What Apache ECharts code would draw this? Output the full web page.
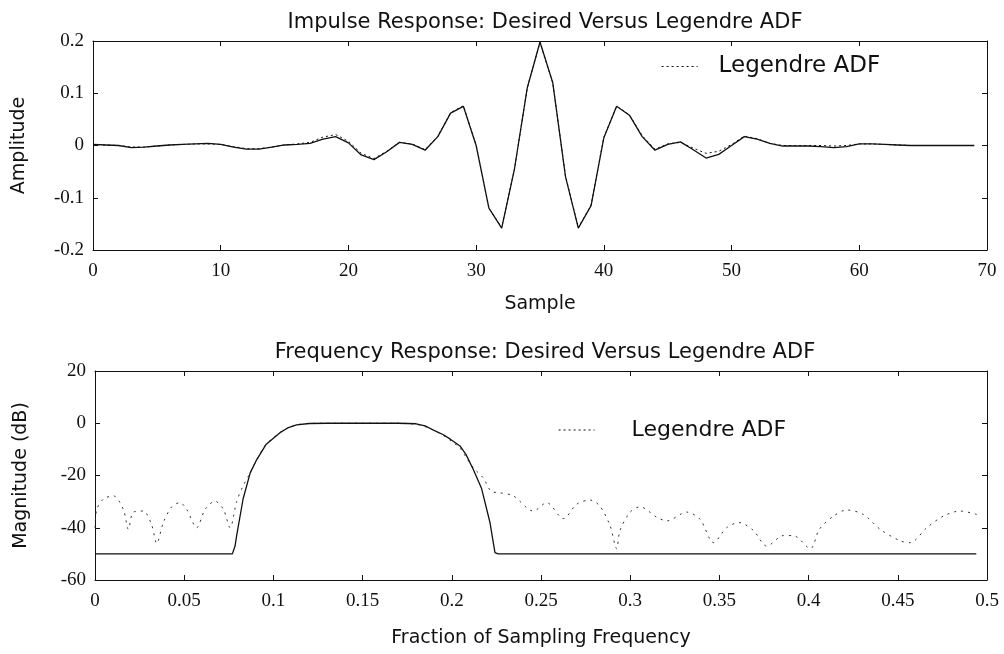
<!DOCTYPE html>
<html>
<head>
<meta charset="utf-8">
<script src="https://cdn.jsdelivr.net/npm/echarts@6/dist/echarts.min.js"></script>
<style>
html,body{margin:0;padding:0;background:#fff;}
#c{width:1004px;height:654px;}
</style>
</head>
<body>
<div id="c"></div>
<script>
// Impulse response, samples 0..69
const desiredImpulse = [0.002,0.001,0,-0.004,-0.003,-0.001,0.001,0.002,0.003,0.004,
  0.002,-0.003,-0.007,-0.007,-0.003,0.001,0.002,0.004,0.012,0.017,
  0.005,-0.018,-0.027,-0.012,0.006,0.002,-0.009,0.017,0.062,0.075,
  0.0,-0.12,-0.158,-0.045,0.11,0.198,0.12,-0.06,-0.158,-0.115,
  0.015,0.075,0.058,0.017,-0.009,0.002,0.007,-0.008,-0.024,-0.017,
  0.0,0.017,0.012,0.004,-0.001,-0.001,-0.001,-0.002,-0.004,-0.002,
  0.003,0.003,0.002,0.001,0,0,0,0,0,0];
const adfImpulse = [0.002,0.001,0,-0.003,-0.003,-0.001,0.001,0.002,0.003,0.003,
  0.002,-0.002,-0.006,-0.006,-0.003,0.001,0.003,0.006,0.016,0.021,
  0.008,-0.015,-0.025,-0.011,0.006,0.003,-0.008,0.018,0.063,0.076,
  0.001,-0.12,-0.157,-0.045,0.11,0.197,0.12,-0.059,-0.157,-0.114,
  0.016,0.075,0.059,0.019,-0.007,0.003,0.006,-0.005,-0.015,-0.011,
  0.002,0.018,0.013,0.004,0,0,0,0,-0.001,0,
  0.003,0.003,0.002,0.001,0,0,0,0,0,0];

// Frequency response
const desiredFreq = [0,0.077,0.0785,0.0794,0.083,0.087,0.0906,0.096,0.1037,0.108,0.113,0.12,0.13,0.17,0.18,0.185,0.1897,0.195,0.199,0.2046,0.208,0.212,0.2167,0.2214,0.2242,0.226,0.494];
const desiredDb   = [-50,-50,-47,-43,-29,-19,-14,-8,-3.6,-1.8,-0.6,-0.1,0,0,-0.2,-1,-2.6,-4.3,-6,-8.7,-12,-17.6,-25,-38,-49.5,-50,-50];
const adfFreq = [0,0.001,0.0047,0.0103,0.0159,0.0187,0.0215,0.0271,0.0318,0.0346,0.0383,0.043,0.0476,0.0514,0.057,0.0617,0.0673,0.072,0.0757,0.0794,0.083,0.087,0.0906,0.096,0.1037,0.108,0.113,0.12,0.13,0.17,0.18,0.185,0.19,0.195,0.2,0.2046,0.208,0.212,0.2177,0.222,0.227,0.2345,0.2457,0.2532,0.2625,0.27,0.2775,0.283,0.2886,0.2924,0.2943,0.3,0.3055,0.315,0.3205,0.3317,0.3392,0.3467,0.354,0.361,0.369,0.3766,0.3859,0.3914,0.401,0.406,0.414,0.4213,0.4307,0.4401,0.4513,0.457,0.4662,0.4756,0.4849,0.4943];
const adfDb = [-40,-33,-29,-27.8,-33,-40.6,-34,-33.6,-39,-46,-38,-32,-30.4,-33,-40,-33,-29.8,-33,-40,-30,-24,-19,-14,-8,-3.6,-1.8,-0.6,-0.1,0,0,-0.4,-1.3,-2.8,-4.6,-7,-9.5,-13,-17,-21,-26,-26.6,-27.8,-33.6,-30.4,-36.5,-31,-29.4,-31.7,-39,-48,-41,-34,-32,-36,-37.4,-34,-36.8,-45.7,-40,-38,-41,-47,-43,-43,-48,-40.6,-35.5,-33.2,-34.9,-40.6,-45,-45.7,-40,-35.5,-33.6,-34.9];

const titles = ['Impulse Response: Desired Versus Legendre ADF','Frequency Response: Desired Versus Legendre ADF'];

const serif = '"Liberation Serif", "Times New Roman", serif';
const sans = '"DejaVu Sans", sans-serif';

function pairs(xs, ys){ return ys.map((v,i)=>[xs[i],v]); }
const idx = desiredImpulse.map((v,i)=>i);

function xAx(gi, min, max, interval, name, gap, show){
  return {
    type:'value', gridIndex:gi, min:min, max:max, interval:interval,
    position: show ? 'bottom' : 'top',
    name: show ? name : '', nameLocation:'middle', nameGap:gap, nameMoveOverlap:false,
    nameTextStyle:{fontFamily:sans, fontSize:19, color:'#111'},
    axisLine:{show:true, onZero:false, lineStyle:{color:'#111', width:1}},
    axisTick:{show:true, inside:true, length:5, lineStyle:{color:'#111'}},
    axisLabel:{show:show, margin:12, fontFamily:serif, fontSize:19, color:'#111'},
    splitLine:{show:false}
  };
}
function yAx(gi, min, max, interval, name, gap, show){
  return {
    type:'value', gridIndex:gi, min:min, max:max, interval:interval,
    position: show ? 'left' : 'right',
    name: show ? name : '', nameLocation:'middle', nameGap:gap, nameMoveOverlap:false,
    nameTextStyle:{fontFamily:sans, fontSize:19, color:'#111'},
    axisLine:{show:true, onZero:false, lineStyle:{color:'#111', width:1}},
    axisTick:{show:true, inside:true, length:5, lineStyle:{color:'#111'}},
    axisLabel:{show:show, margin:9, fontFamily:serif, fontSize:19, color:'#111'},
    splitLine:{show:false}
  };
}

const legendCommon = {itemWidth:36, itemHeight:10,
  itemStyle:{opacity:0, color:'transparent', borderColor:'transparent'},
  lineStyle:{color:'#111', width:1.2, type:[2,3]}};

const chart = echarts.init(document.getElementById('c'), null, {renderer:'canvas'});
chart.setOption({
  animation:false,
  backgroundColor:'#fff',
  title:[
    {text:titles[0], left:540, top:7, textAlign:'center', textStyle:{fontFamily:sans, fontSize:21, fontWeight:'normal', color:'#111'}},
    {text:titles[1], left:540, top:337, textAlign:'center', textStyle:{fontFamily:sans, fontSize:21, fontWeight:'normal', color:'#111'}}
  ],
  legend:[
    Object.assign({data:['Legendre ADF'], left:656, top:50,
     textStyle:{fontFamily:sans, fontSize:23, color:'#111', padding:[0,0,0,16]}}, legendCommon),
    Object.assign({data:['Legendre ADF'], left:553, top:414,
     textStyle:{fontFamily:sans, fontSize:22, color:'#111', padding:[0,0,0,32]}}, legendCommon)
  ],
  grid:[
    {left:93, top:41, width:894, height:209},
    {left:95, top:371, width:892, height:209}
  ],
  xAxis:[
    xAx(0,0,70,10,'Sample',45,true),
    xAx(0,0,70,10,'',0,false),
    xAx(1,0,0.5,0.05,'Fraction of Sampling Frequency',49,true),
    xAx(1,0,0.5,0.05,'',0,false)
  ],
  yAxis:[
    yAx(0,-0.2,0.2,0.1,'Amplitude',64,true),
    yAx(0,-0.2,0.2,0.1,'',0,false),
    yAx(1,-60,20,20,'Magnitude (dB)',64,true),
    yAx(1,-60,20,20,'',0,false)
  ],
  series:[
    {name:'Desired', type:'line', xAxisIndex:0, yAxisIndex:0, data:pairs(idx, desiredImpulse),
     symbol:'none', lineStyle:{color:'#111', width:1.3}, itemStyle:{color:'#111'}, z:3},
    {name:'Legendre ADF', type:'line', xAxisIndex:0, yAxisIndex:0, data:pairs(idx, adfImpulse),
     symbol:'none', lineStyle:{color:'#111', width:1, type:[2,3]}, itemStyle:{color:'#111'}, z:2},
    {name:'Desired', type:'line', xAxisIndex:2, yAxisIndex:2, data:pairs(desiredFreq, desiredDb),
     symbol:'none', lineStyle:{color:'#111', width:1.3}, itemStyle:{color:'#111'}, z:3},
    {name:'Legendre ADF', type:'line', xAxisIndex:2, yAxisIndex:2, data:pairs(adfFreq, adfDb),
     symbol:'none', smooth:0.3, lineStyle:{color:'#333', width:1, type:[2,5]}, itemStyle:{color:'#111'}, z:2}
  ]
});
</script>
</body>
</html>
